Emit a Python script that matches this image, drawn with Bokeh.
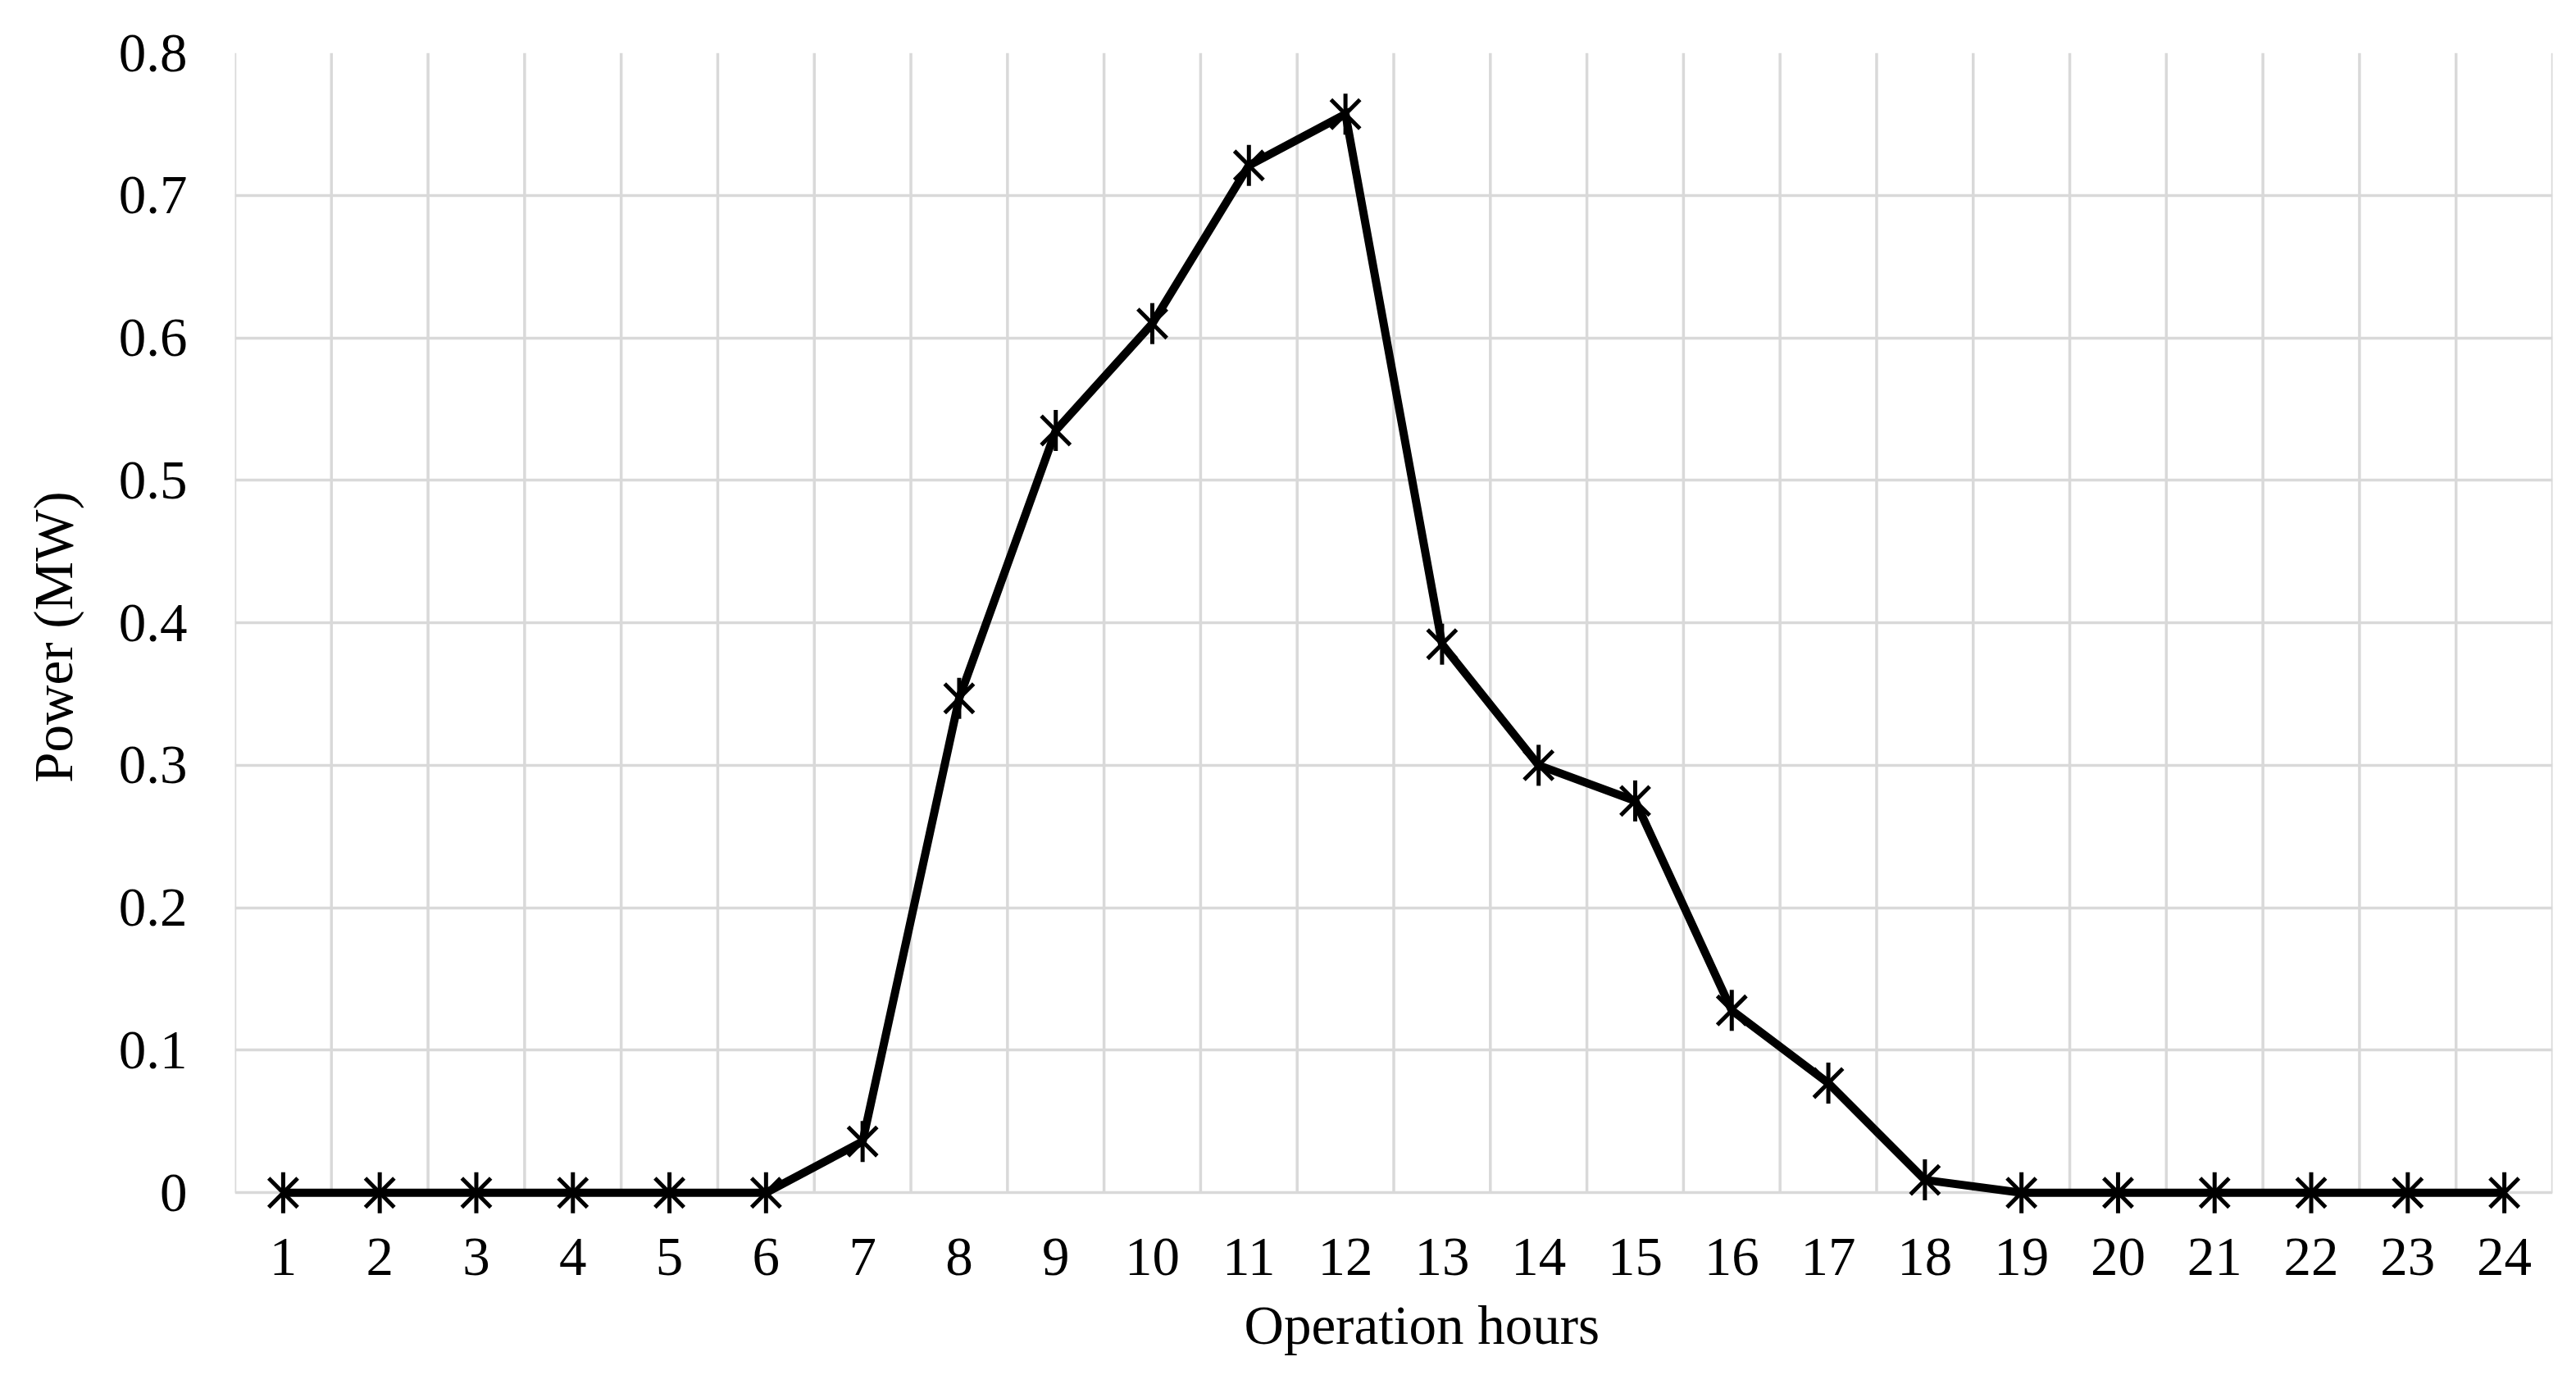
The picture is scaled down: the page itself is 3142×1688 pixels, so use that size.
import math
from bokeh.plotting import figure
from bokeh.models import FixedTicker, ColumnDataSource, Title
from bokeh.embed import file_html
from bokeh.resources import INLINE

# ---- data ----
hours = list(range(1, 25))
power_mw = [0, 0, 0, 0, 0, 0, 0.036, 0.347, 0.535, 0.610, 0.721, 0.757,
            0.385, 0.300, 0.275, 0.128, 0.077, 0.009, 0, 0, 0, 0, 0, 0]
y_ticks = [0, 0.1, 0.2, 0.3, 0.4, 0.5, 0.6, 0.7, 0.8]
y_tick_labels = ["0", "0.1", "0.2", "0.3", "0.4", "0.5", "0.6", "0.7", "0.8"]
x_label = "Operation hours"
y_label = "Power (MW)"

FONT = "Liberation Serif"
FS = "67px"
GRID = "#d9d9d9"

src = ColumnDataSource(dict(x=hours, y=power_mw))

# y range starts a little below 0 so the markers on the zero line are not clipped
p = figure(width=3126, height=1672, output_backend="svg", toolbar_location=None,
           x_range=(0.5, 24.5), y_range=(-0.02, y_ticks[-1]),
           min_border_left=286, min_border_right=13, min_border_top=64, min_border_bottom=183)
p.outline_line_color = None
p.background_fill_color = "white"
p.border_fill_color = "white"

# vertical category gridlines, from 0 to top only
bounds = [h - 0.5 for h in hours] + [hours[-1] + 0.5]
p.segment(x0=bounds, y0=[y_ticks[0]] * len(bounds), x1=bounds, y1=[y_ticks[-1]] * len(bounds),
          line_color=GRID, line_width=3.5)

p.line("x", "y", source=src, line_color="black", line_width=10, line_join="miter")
p.scatter("x", "y", source=src, marker="x", size=50, line_color="black", line_width=5)
p.scatter("x", "y", source=src, marker="dash", size=50, angle=math.pi / 2,
          line_color="black", line_width=5)

# axes
p.xaxis.ticker = FixedTicker(ticks=hours)
p.yaxis.ticker = FixedTicker(ticks=y_ticks)
p.yaxis.major_label_overrides = {t: l for t, l in zip(y_ticks, y_tick_labels)}

for ax in (p.xaxis, p.yaxis):
    ax.axis_line_color = None
    ax.major_tick_line_color = None
    ax.minor_tick_line_color = None
    ax.major_tick_out = 0
    ax.major_tick_in = 0
    ax.major_label_text_font = FONT
    ax.major_label_text_font_size = FS
    ax.major_label_text_color = "black"
    ax.axis_label_text_font = FONT
    ax.axis_label_text_font_size = FS
    ax.axis_label_text_font_style = "normal"
    ax.axis_label_text_color = "black"

p.yaxis.axis_label = y_label
p.xaxis.major_label_standoff = 21
p.yaxis.major_label_standoff = 58
p.yaxis.axis_label_standoff = 40

# x axis title as a below-panel title (slightly right of centre, as in the original)
xt = Title(text=x_label, align="left", offset=1231, text_font=FONT,
           text_font_size=FS, text_font_style="normal", text_color="black",
           standoff=38)
p.add_layout(xt, "below")

# grids
p.xgrid.visible = False
p.ygrid.ticker = FixedTicker(ticks=y_ticks)
p.ygrid.grid_line_color = GRID
p.ygrid.grid_line_width = 3.5

open("out.html", "w").write(file_html(p, INLINE))
